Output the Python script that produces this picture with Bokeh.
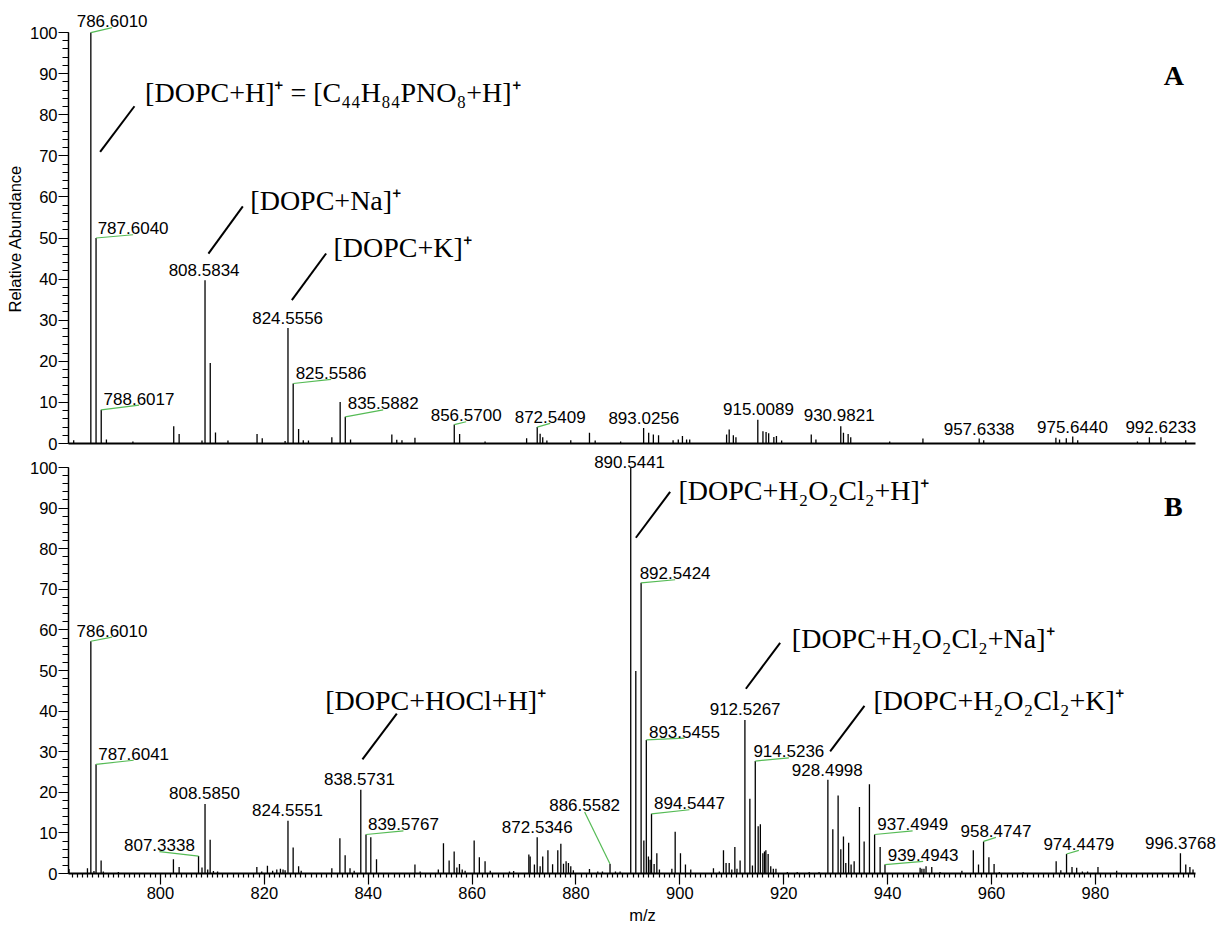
from bokeh.plotting import figure
from bokeh.models import ColumnDataSource, LabelSet, Label, Range1d, FixedTicker, LinearAxis, Title
from bokeh.layouts import column
from bokeh.embed import file_html
from bokeh.resources import INLINE
from bokeh.core.properties import value

# ---------------- data: panel A ----------------
mz_a = [783.3, 786.6010, 787.6040, 788.6017, 789.6, 794.7, 802.56, 803.6, 808.0, 808.5834,
        809.59, 810.6, 813.0, 818.6, 819.6, 824.0, 824.5556, 825.5586, 826.6, 827.5,
        828.5, 833.0, 834.6, 835.5882, 836.6, 844.55, 845.5, 846.5, 849.0, 856.5700,
        857.6, 862.5, 870.5, 872.5409, 873.1, 873.6, 874.4, 879.0, 882.6, 883.7,
        888.6, 893.0256, 894.0, 894.9, 895.9, 898.7, 899.7, 900.5, 901.3, 901.9,
        909.0, 909.5, 910.3, 910.8, 915.0089, 916.0, 916.6, 917.1, 918.1, 918.6,
        919.6, 925.3, 926.2, 930.9821, 931.5, 932.4, 932.9, 940.4, 946.8, 957.6338,
        958.5, 972.4, 973.1, 974.4, 975.6440, 976.6, 988.1, 990.4, 992.6233, 993.5, 997.4]
ab_a = [0.8, 100.0, 50.0, 8.2, 1.0, 0.5, 4.2, 2.3, 0.7, 39.7,
        19.6, 2.7, 0.7, 2.3, 1.3, 0.6, 28.1, 14.6, 3.5, 0.8,
        0.7, 1.5, 10.1, 6.5, 1.0, 2.2, 0.9, 0.8, 1.4, 4.6,
        2.3, 0.5, 1.3, 4.0, 2.4, 1.5, 0.7, 0.8, 2.6, 0.7,
        0.5, 3.8, 2.6, 2.2, 2.0, 0.8, 1.0, 1.8, 1.0, 1.0,
        2.2, 3.4, 2.0, 1.5, 5.8, 3.0, 2.8, 2.5, 1.6, 1.8,
        0.7, 2.2, 1.0, 4.2, 2.6, 2.3, 1.5, 0.5, 1.2, 1.2,
        0.8, 1.4, 1.0, 1.3, 1.7, 0.8, 0.5, 1.5, 1.5, 0.5, 0.8]

peak_text_a = ["786.6010", "787.6040", "788.6017", "808.5834", "824.5556", "825.5586", "835.5882",
               "856.5700", "872.5409", "893.0256", "915.0089", "930.9821", "957.6338", "975.6440",
               "992.6233"]
label_x_a = [790.70, 794.74, 795.88, 808.41, 824.49, 832.86, 842.88,
             858.86, 875.03, 893.07, 915.13, 930.67, 957.62, 975.59, 992.61]
label_y_a = [102.8, 52.4, 10.95, 42.3, 30.6, 17.2, 9.8,
             6.9, 6.5, 6.3, 8.5, 6.9, 3.65, 3.9, 3.9]
leader_a = [1, 1, 1, 0, 0, 1, 1, 1, 1, 0, 0, 0, 0, 0, 0]

ann_text_a = ["[DOPC+H]\u207a = [C\u2084\u2084H\u2088\u2084PNO\u2088+H]\u207a",
              "[DOPC+Na]\u207a", "[DOPC+K]\u207a"]
ann_x_a = [797.05, 817.31, 833.31]
ann_y_a = [85.3, 59.2, 47.8]
ann_line_a = [(788.39, 70.95, 795.0, 82.07), (809.24, 46.2, 815.86, 57.7), (825.30, 34.87, 831.90, 46.23)]

# ---------------- data: panel B ----------------
mz_b = [782.4, 785.95, 786.6010, 787.2, 787.6041, 788.58, 789.0, 791.9, 802.5, 803.6,
        807.3338, 808.0, 808.5850, 809.1, 809.57, 810.2, 811.0, 818.56, 819.5, 820.6,
        821.6, 822.4, 823.1, 823.6, 824.0, 824.5551, 825.55, 826.6, 827.1, 833.0,
        834.55, 835.56, 836.5, 837.3, 838.5731, 839.5767, 840.5, 841.6, 849.0, 850.0,
        853.5, 854.49, 855.58, 856.55, 857.07, 857.57, 858.1, 858.66, 860.4, 861.4,
        862.5, 863.5, 867.2, 868.0, 870.93, 871.18, 872.0, 872.5346, 873.1, 873.6,
        874.6, 875.5, 876.5, 877.09, 877.6, 878.1, 878.55, 879.0, 879.5, 882.6,
        884.2, 885.1, 886.5582, 887.6, 888.5, 890.5441, 891.52, 892.5424, 893.07, 893.5455,
        893.95, 894.28, 894.5447, 895.05, 895.57, 896.07, 898.46, 899.1, 900.12, 901.08,
        902.1, 906.47, 907.6, 908.4, 908.9, 909.5, 910.0, 910.59, 911.0, 911.6,
        912.5267, 913.48, 913.98, 914.5236, 915.08, 915.5, 915.98, 916.3, 916.56, 917.0,
        917.5, 918.0, 918.5, 920.7, 922.6, 924.9, 926.8, 928.4998, 929.45, 930.47,
        930.99, 931.5, 931.95, 932.5, 932.97, 933.56, 934.58, 935.48, 936.5, 937.4949,
        938.56, 939.4943, 946.26, 946.6, 947.0, 947.4, 948.5, 950.1, 954.3, 956.5,
        957.5, 958.4747, 959.5, 960.5, 961.5, 966.1, 972.45, 973.35, 974.4479, 975.5,
        976.4, 977.5, 978.5, 980.5, 984.1, 996.3768, 997.4, 998.2, 998.8]
ab_b = [1.1, 1.3, 57.2, 0.6, 26.9, 3.2, 0.5, 0.4, 3.5, 1.6,
        4.3, 1.5, 17.1, 1.0, 8.3, 0.6, 0.5, 1.6, 0.5, 1.9,
        0.7, 1.0, 1.2, 1.0, 0.8, 13.0, 6.4, 1.8, 0.7, 1.3,
        8.7, 4.5, 1.3, 0.7, 20.6, 9.6, 8.9, 3.5, 2.2, 0.5,
        1.0, 7.45, 3.2, 5.4, 1.5, 2.35, 1.0, 0.7, 8.1, 4.0,
        3.0, 0.7, 0.5, 0.6, 4.7, 4.2, 2.2, 8.9, 1.8, 4.2,
        5.7, 2.3, 5.7, 7.3, 2.4, 3.0, 2.6, 1.8, 0.8, 1.1,
        0.5, 0.5, 2.35, 0.5, 0.5, 100.0, 49.9, 71.6, 8.1, 32.9,
        4.2, 3.4, 14.7, 2.35, 5.0, 1.0, 1.2, 10.3, 5.0, 2.2,
        1.0, 1.3, 0.5, 5.7, 2.6, 2.6, 1.0, 6.5, 1.2, 3.2,
        37.8, 18.4, 2.0, 27.7, 11.65, 12.1, 5.0, 5.4, 5.7, 4.8,
        1.8, 1.2, 1.2, 0.4, 0.4, 0.4, 0.4, 23.1, 10.9, 19.2,
        6.0, 9.1, 2.6, 7.6, 2.2, 3.0, 16.35, 7.9, 22.0, 9.6,
        6.5, 2.2, 1.4, 1.2, 1.2, 1.8, 1.6, 0.4, 0.7, 5.7,
        2.2, 7.9, 4.0, 2.35, 0.4, 0.3, 3.0, 0.8, 4.8, 1.6,
        1.4, 0.5, 0.5, 1.6, 0.7, 5.0, 2.2, 1.6, 1.0]

peak_text_b = ["786.6010", "787.6041", "807.3338", "808.5850", "824.5551", "838.5731", "839.5767",
               "872.5346", "886.5582", "890.5441", "892.5424", "893.5455", "894.5447", "912.5267",
               "914.5236", "928.4998", "937.4949", "939.4943", "958.4747", "974.4479", "996.3768"]
label_x_b = [790.68, 794.84, 799.81, 808.47, 824.45, 838.31, 846.78,
             872.56, 881.67, 890.33, 899.09, 900.88, 901.85, 912.57,
             920.99, 928.39, 944.82, 946.84, 960.86, 976.82, 996.38]
label_y_b = [59.8, 29.5, 7.0, 19.8, 15.7, 23.2, 12.1,
             11.5, 16.75, 101.3, 73.95, 34.95, 17.3, 40.6,
             30.1, 25.4, 12.1, 4.6, 10.5, 7.3, 7.45]
leader_b = [1, 1, 1, 0, 0, 0, 1, 0, 1, 0, 1, 1, 1, 0, 1, 0, 1, 1, 1, 1, 0]

ann_text_b = ["[DOPC+H\u2082O\u2082Cl\u2082+H]\u207a", "[DOPC+H\u2082O\u2082Cl\u2082+Na]\u207a",
              "[DOPC+H\u2082O\u2082Cl\u2082+K]\u207a", "[DOPC+HOCl+H]\u207a"]
ann_x_b = [899.73, 921.56, 937.27, 831.71]
ann_y_b = [94.4, 58.0, 42.6, 42.6]
ann_line_b = [(891.53, 82.7, 898.13, 94.0), (912.71, 45.5, 919.31, 56.8),
              (928.94, 30.1, 935.54, 41.3), (838.89, 28.1, 845.51, 39.4)]

panel_letters = ["A", "B"]
letter_x = [995.11, 995.03]
letter_y = [89.6, 90.4]

y_title = "Relative Abundance"
x_title = "m/z"

MZ_AXIS = (782.3, 999.35)        # extent of the m/z axis line
X_VIEW = (782.3, 1003.32)        # visible range (room for the last label)
SANS = "Liberation Sans"
SERIF = "Liberation Serif"
GREEN = "#55bb55"


def make_panel(mz, ab, ptext, lx, ly, lead, atext, ax, ay, alines, letter, lxl, lyl,
               height, y_end, top_border, bottom_border, xr, is_bottom):
    p = figure(width=1216, height=height, output_backend="svg", toolbar_location=None,
               x_range=xr, y_range=Range1d(0, y_end),
               min_border_left=68, min_border_right=0,
               min_border_top=top_border, min_border_bottom=bottom_border)
    p.outline_line_color = None
    p.xgrid.visible = False
    p.ygrid.visible = False
    p.background_fill_color = "white"
    p.border_fill_color = "white"

    src = ColumnDataSource(dict(x=mz, y0=[0] * len(mz), y1=ab))
    p.segment(x0="x", y0="y0", x1="x", y1="y1", source=src, line_color="black", line_width=1.3)

    # green leader lines from peaks to offset labels
    pk_x, pk_y, ex, ey = [], [], [], []
    for t, x, y, f in zip(ptext, lx, ly, lead):
        if f:
            m = float(t)
            pk_x.append(m)
            pk_y.append(ab[mz.index(m)])
            ex.append(x)
            ey.append(y - 1.6)
    p.segment(x0=pk_x, y0=pk_y, x1=ex, y1=ey, line_color=GREEN, line_width=1.2)

    lsrc = ColumnDataSource(dict(x=lx, y=ly, text=ptext))
    p.add_layout(LabelSet(x="x", y="y", text="text", source=lsrc, text_align="center",
                          text_baseline="middle", text_font=value(SANS),
                          text_font_size=value("17px"), text_color="black"))

    # annotation leader lines and texts
    p.segment(x0=[l[0] for l in alines], y0=[l[1] for l in alines],
              x1=[l[2] for l in alines], y1=[l[3] for l in alines],
              line_color="black", line_width=2)
    for t, x, y in zip(atext, ax, ay):
        p.add_layout(Label(x=x, y=y, text=t, text_font=SERIF, text_font_size="28px",
                           text_align="left", text_baseline="alphabetic", text_color="black"))
    p.add_layout(Label(x=lxl, y=lyl, text=letter, text_font=SERIF, text_font_size="28px",
                       text_font_style="bold", text_align="center", text_baseline="alphabetic",
                       text_color="black"))

    # y axis
    ya = p.yaxis[0]
    ya.ticker = FixedTicker(ticks=list(range(0, 101, 10)), minor_ticks=list(range(0, 101, 2)))
    ya.bounds = (0, 100)
    ya.major_tick_out = 10
    ya.major_tick_in = 0
    ya.minor_tick_out = 6
    ya.minor_tick_in = 0
    ya.major_label_standoff = 1
    ya.major_label_text_font = SANS
    ya.major_label_text_font_size = "16.5px"
    ya.major_label_text_color = "black"
    ya.axis_line_width = 1.5
    ya.major_tick_line_width = 1.2
    ya.minor_tick_line_width = 1.2

    xa = p.xaxis[0]
    xa.axis_line_width = 2
    xa.bounds = MZ_AXIS
    if is_bottom:
        xa.ticker = FixedTicker(ticks=list(range(800, 1000, 20)), minor_ticks=list(range(783, 1000)))
        xa.major_tick_out = 11
        xa.major_tick_in = 0
        xa.minor_tick_out = 4
        xa.minor_tick_in = 0
        xa.major_label_standoff = 2
        xa.major_label_text_font = SANS
        xa.major_label_text_font_size = "16.5px"
        xa.major_label_text_color = "black"
        xa.axis_label = x_title
        xa.axis_label_text_font = SANS
        xa.axis_label_text_font_size = "16.5px"
        xa.axis_label_text_font_style = "normal"
        xa.axis_label_text_color = "black"
        xa.axis_label_standoff = 4
        xa.major_tick_line_width = 1.2
        xa.minor_tick_line_width = 1.2
        # medium ticks every 5 units, drawn at y = 0 pointing down
        mid = LinearAxis(fixed_location=0, bounds=MZ_AXIS,
                         ticker=FixedTicker(ticks=[],
                                            minor_ticks=[t for t in range(785, 1000, 5) if t % 20]),
                         major_tick_in=0, major_tick_out=0, minor_tick_in=7, minor_tick_out=0,
                         major_label_standoff=0, axis_label_standoff=0,
                         axis_line_color=None, minor_tick_line_width=1.2)
        p.add_layout(mid, "above")
    else:
        xa.ticker = FixedTicker(ticks=[], minor_ticks=[])
        xa.major_tick_out = 0
        xa.major_tick_in = 0
        xa.minor_tick_out = 0
        xa.minor_tick_in = 0
        xa.major_label_standoff = 0
        # y-axis title (offset from the frame bottom so it is centred on the 0-100 axis line)
        p.add_layout(Title(text=y_title, align="left", offset=131, standoff=5,
                           text_font=SANS, text_font_size="16.5px", text_font_style="normal",
                           text_color="black"), "left")
    return p


xr = Range1d(*X_VIEW)
pa = make_panel(mz_a, ab_a, peak_text_a, label_x_a, label_y_a, leader_a,
                ann_text_a, ann_x_a, ann_y_a, ann_line_a, panel_letters[0], letter_x[0], letter_y[0],
                height=453, y_end=107.8, top_border=0, bottom_border=10, xr=xr, is_bottom=False)
pb = make_panel(mz_b, ab_b, peak_text_b, label_x_b, label_y_b, leader_b,
                ann_text_b, ann_x_b, ann_y_b, ann_line_b, panel_letters[1], letter_x[1], letter_y[1],
                height=473, y_end=103.45, top_border=0, bottom_border=50, xr=xr, is_bottom=True)

layout = column(pa, pb, spacing=0)
open("out.html", "w").write(file_html(layout, INLINE))
